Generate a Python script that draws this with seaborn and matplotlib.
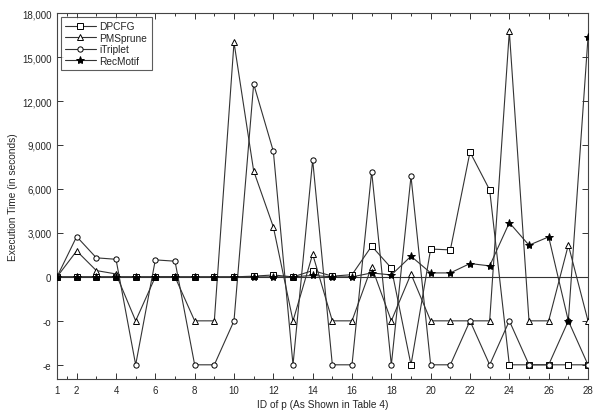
import matplotlib
matplotlib.use("Agg")
import matplotlib.pyplot as plt
import seaborn as sns
import numpy as np
import pandas as pd

sns.set_style("ticks")
plt.rcParams['font.family'] = ['Liberation Sans', 'DejaVu Sans']

# special codes drawn below zero
O = -3000   # "-o"
E = -6000   # "-e"

ids = list(range(1, 29))
dpcfg = [0, 0, 0, 0, 0, 0, 0, 0, 0, 0, 50, 130, 0, 430, 50, 150, 2100, 600, E,
         1900, 1840, 8520, 5930, E, E, E, E, E]
pmsprune = [0, 1770, 430, 200, O, 0, 0, O, O, 16000, 7230, 3410, O, 1550, O, O, 700, O, 200,
            O, O, O, O, 16750, O, O, 2180, O]
itriplet = [0, 2750, 1300, 1200, E, 1160, 1070, E, E, O, 13160, 8570, E, 7980, E, E, 7180, E, 6860,
            E, E, O, E, O, E, E, O, E]
recmotif = [0, 0, 0, 0, 0, 0, 0, 0, 0, 0, 0, 0, 0, 100, 0, 0, 270, 130, 1410,
            270, 270, 910, 750, 3700, 2160, 2730, O, 16340]

series_names = ["DPCFG", "PMSprune", "iTriplet", "RecMotif"]
series_vals = [dpcfg, pmsprune, itriplet, recmotif]
markers = ["s", "^", "o", "*"]
msizes = [5.0, 5.0, 3.8, 6.0]
faces = ["white", "white", "white", "black"]

ytick_vals = [E, O, 0, 3000, 6000, 9000, 12000, 15000, 18000]
ytick_labels = ["-e", "-o", "0", "3,000", "6,000", "9,000", "12,000", "15,000", "18,000"]
xtick_major = [1, 2, 4, 6, 8, 10, 12, 14, 16, 18, 20, 22, 24, 26, 28]
xtick_minor = [1.5] + list(range(3, 28, 2))

fig = plt.figure(figsize=(6.0, 4.14), dpi=100)
ax = fig.add_axes([0.095, 0.081, 0.885, 0.885])

ax.axhline(0, color="#333333", lw=0.8, zorder=1)
for name, vals, m, ms, fc in zip(series_names, series_vals, markers, msizes, faces):
    df = pd.DataFrame({"id": ids, "t": vals})
    sns.lineplot(data=df, x="id", y="t", ax=ax, label=name, color="#333333", lw=0.8,
                 marker=m, markersize=ms, markerfacecolor=fc, markeredgecolor="black",
                 markeredgewidth=0.7, zorder=3)

ax.set_xlim(1, 28)
ax.set_ylim(-7000, 18000)
ax.set_xticks(xtick_major)
ax.set_xticks(xtick_minor, minor=True)
ax.set_yticks(ytick_vals)
ax.set_yticklabels(ytick_labels)
ax.tick_params(axis="both", which="both", direction="in", top=True, right=True,
               labelsize=7, width=0.7, color="#333333", pad=4)
ax.tick_params(which="major", length=4)
ax.tick_params(which="minor", length=2.5)
for s in ax.spines.values():
    s.set_linewidth(0.8)
    s.set_color("#444444")

ax.set_xlabel("ID of p (As Shown in Table 4)", fontsize=7.3, labelpad=3)
ax.set_ylabel("Execution Time (in seconds)", fontsize=7.3, labelpad=3)

leg = ax.legend(loc="upper left", fontsize=7.3, frameon=True, fancybox=False,
                edgecolor="#333333", handlelength=3.0, borderpad=0.4, labelspacing=0.15,
                handletextpad=0.4, borderaxespad=0.4)
leg.get_frame().set_linewidth(0.8)

fig.savefig("out.png", dpi=100)
